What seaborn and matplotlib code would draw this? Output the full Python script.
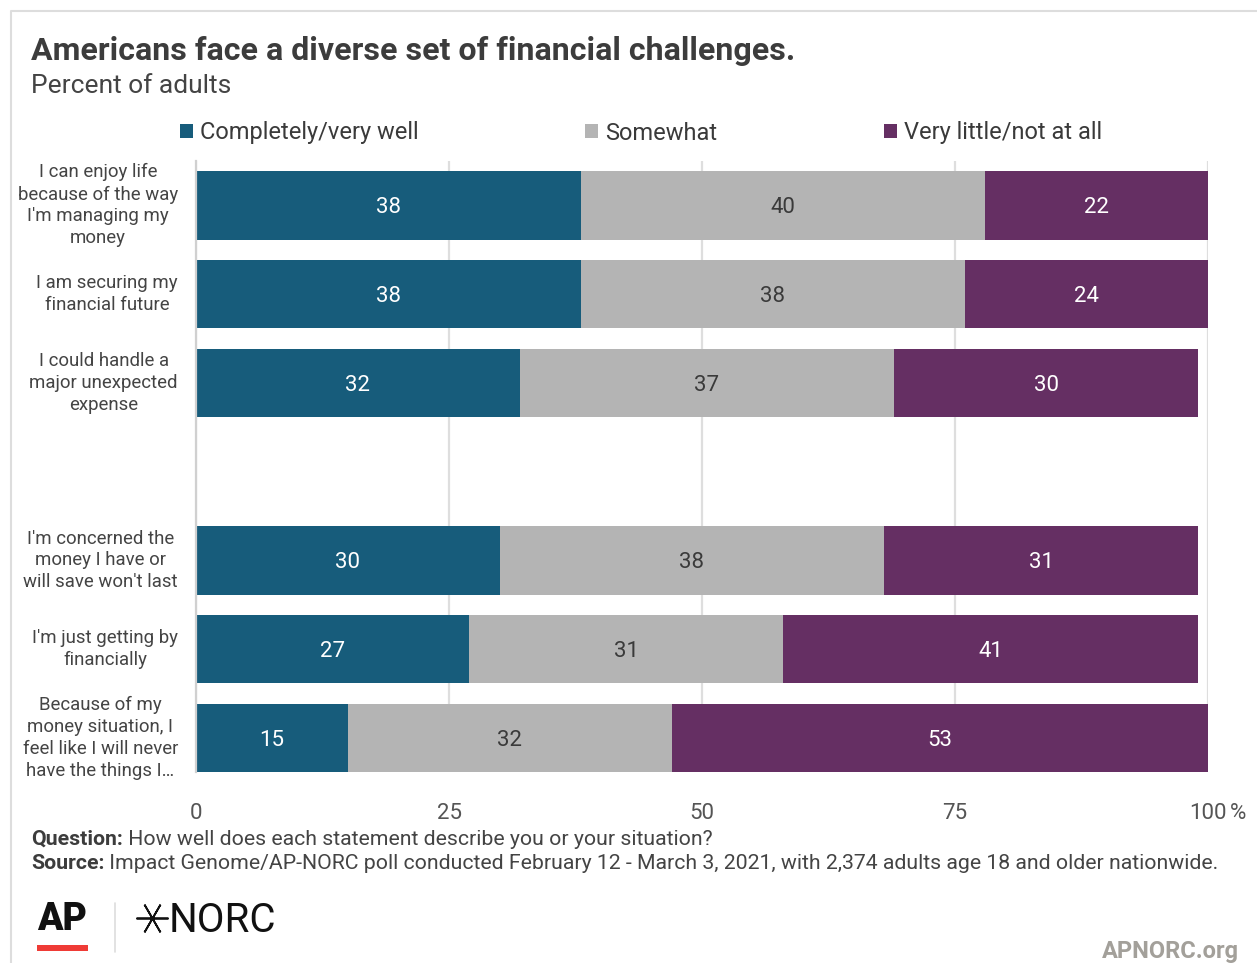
import matplotlib
matplotlib.use("Agg")
import matplotlib.pyplot as plt
import pandas as pd
import seaborn as sns
from matplotlib.patches import Patch, Rectangle
from matplotlib.lines import Line2D
import matplotlib.transforms as mtransforms

# ---- data -------------------------------------------------------------
statements = [
    "I can enjoy life\nbecause of the way\nI'm managing my\nmoney",
    "I am securing my\nfinancial future",
    "I could handle a\nmajor unexpected\nexpense",
    "I'm concerned the\nmoney I have or\nwill save won't last",
    "I'm just getting by\nfinancially",
    "Because of my\nmoney situation, I\nfeel like I will never\nhave the things I…",
]
completely = [38, 38, 32, 30, 27, 15]
somewhat = [40, 38, 37, 38, 31, 32]
very_little = [22, 24, 30, 31, 41, 53]

series_names = ["Completely/very well", "Somewhat", "Very little/not at all"]
series_colors = ["#175c7b", "#b4b4b4", "#652f63"]
value_text_colors = ["white", "#3a3a3a", "white"]
x_ticks = [0, 25, 50, 75, 100]

# an empty slot separates the two groups of statements
row_order = statements[:3] + [" "] + statements[3:]

# ---- styling ----------------------------------------------------------
sns.set_theme(style="white")
plt.rcParams["font.family"] = ["Roboto", "DejaVu Sans"]

W, H = 1257, 963
fig = plt.figure(figsize=(W / 100, H / 100), dpi=100)
fig.patch.set_facecolor("white")


def fx(x):
    return x / W


def fy(y):
    return 1 - y / H


ax = fig.add_axes([fx(196), fy(772), fx(1208) - fx(196), fy(161) - fy(772)])

# ---- stacked bars (drawn as cumulative totals, back to front) ---------
df = pd.DataFrame({
    "statement": statements,
    "completely": completely,
    "somewhat": somewhat,
    "very_little": very_little,
})
df["cum1"] = df["completely"]
df["cum2"] = df["cum1"] + df["somewhat"]
df["cum3"] = df["cum2"] + df["very_little"]

for col, color in zip(["cum3", "cum2", "cum1"], series_colors[::-1]):
    sns.barplot(data=df, y="statement", x=col, order=row_order, orient="h",
                color=color, saturation=1, width=0.77, ax=ax,
                edgecolor="none", linewidth=0, errorbar=None)

# value labels centred in each segment
series_values = [completely, somewhat, very_little]
for i, stmt in enumerate(statements):
    row = row_order.index(stmt)
    left = 0
    for s, vals in enumerate(series_values):
        v = vals[i]
        ax.text(left + v / 2, row, f"{v}", ha="center", va="center_baseline",
                fontsize=16, color=value_text_colors[s])
        left += v

# ---- axes -------------------------------------------------------------
ax.set_xlim(0, 100)
ax.set_ylim(6.383, -0.5)
ax.set_xlabel("")
ax.set_ylabel("")
ax.set_xticks(x_ticks, [str(t) for t in x_ticks])
ax.set_yticks(range(len(row_order)), row_order, multialignment="center",
              linespacing=1.28)
ax.tick_params(axis="x", length=0, pad=22, labelsize=16, labelcolor="#555555")
ax.tick_params(axis="y", length=0, pad=13, labelsize=13.4, labelcolor="#444444")
for lbl in ax.get_yticklabels():
    lbl.set_verticalalignment("center")
ax.set_axisbelow(True)
ax.xaxis.grid(True, color="#dedede", linewidth=1.6)
for side in ["top", "right", "bottom"]:
    ax.spines[side].set_visible(False)
ax.spines["left"].set_color("#d0d0d0")
ax.spines["left"].set_linewidth(1.6)

# percent sign after the last tick
trans = mtransforms.blended_transform_factory(ax.transData, ax.transAxes)
ax.annotate("%", xy=(100, 0), xycoords=trans, xytext=(16, -22),
            textcoords="offset points", ha="left", va="top",
            fontsize=16, color="#555555")

# ---- legend -----------------------------------------------------------
handles = [Patch(facecolor=c, edgecolor="none") for c in series_colors]
fig.legend(handles, series_names, loc="center left",
           bbox_to_anchor=(fx(180), fy(133)), ncol=3, frameon=False,
           fontsize=17.0, handlelength=0.55, handleheight=0.55,
           handletextpad=0.3, columnspacing=7.05, borderpad=0,
           borderaxespad=0, labelcolor="#3a3a3a")

# ---- titles -----------------------------------------------------------
fig.text(fx(31), fy(60), "Americans face a diverse set of financial challenges.",
         fontsize=23.1, fontweight="bold", color="#3c3c3c", va="baseline")
fig.text(fx(31), fy(93), "Percent of adults", fontsize=19, color="#444444",
         va="baseline")

# ---- notes ------------------------------------------------------------
notes = [
    ("Question:", " How well does each statement describe you or your situation?", 845),
    ("Source:", " Impact Genome/AP-NORC poll conducted February 12 - March 3, 2021, "
                "with 2,374 adults age 18 and older nationwide.", 869),
]
for head, body, yb in notes:
    t = fig.text(fx(31), fy(yb), head, fontsize=15.35, fontweight="bold",
                 color="#3c3c3c", va="baseline")
    plt.annotate(body, xy=(1, 0), xycoords=t, ha="left", va="bottom",
                 fontsize=15.35, color="#444444")

# ---- logos ------------------------------------------------------------
fig.text(fx(37), fy(930), "AP", fontsize=27, fontweight="heavy",
         color="#111111", va="baseline")
fig.add_artist(Rectangle((fx(37), fy(951)), fx(88) - fx(37), fy(945) - fy(951),
                         transform=fig.transFigure, facecolor="#ef3b36",
                         edgecolor="none"))
fig.add_artist(Line2D([fx(115), fx(115)], [fy(903), fy(952)],
                      transform=fig.transFigure, color="#dddddd", linewidth=1.2))
fig.add_artist(Line2D([fx(151.5)], [fy(918)], transform=fig.transFigure,
                      marker=(6, 2, 90), markersize=23, markeredgewidth=1.3,
                      color="#111111", linestyle="none"))
fig.text(fx(169), fy(932), "NORC", fontsize=29, color="#111111",
         va="baseline")
fig.text(fx(1239), fy(958), "APNORC.org", fontsize=17, fontweight="bold",
         color="#a3a09a", ha="right", va="baseline")

# ---- frame ------------------------------------------------------------
fig.add_artist(Line2D([fx(11), fx(11), fx(1257)], [fy(963), fy(11), fy(11)],
                      transform=fig.transFigure, color="#dddddd", linewidth=1.5))

fig.savefig("out.png", dpi=100, facecolor="white")
